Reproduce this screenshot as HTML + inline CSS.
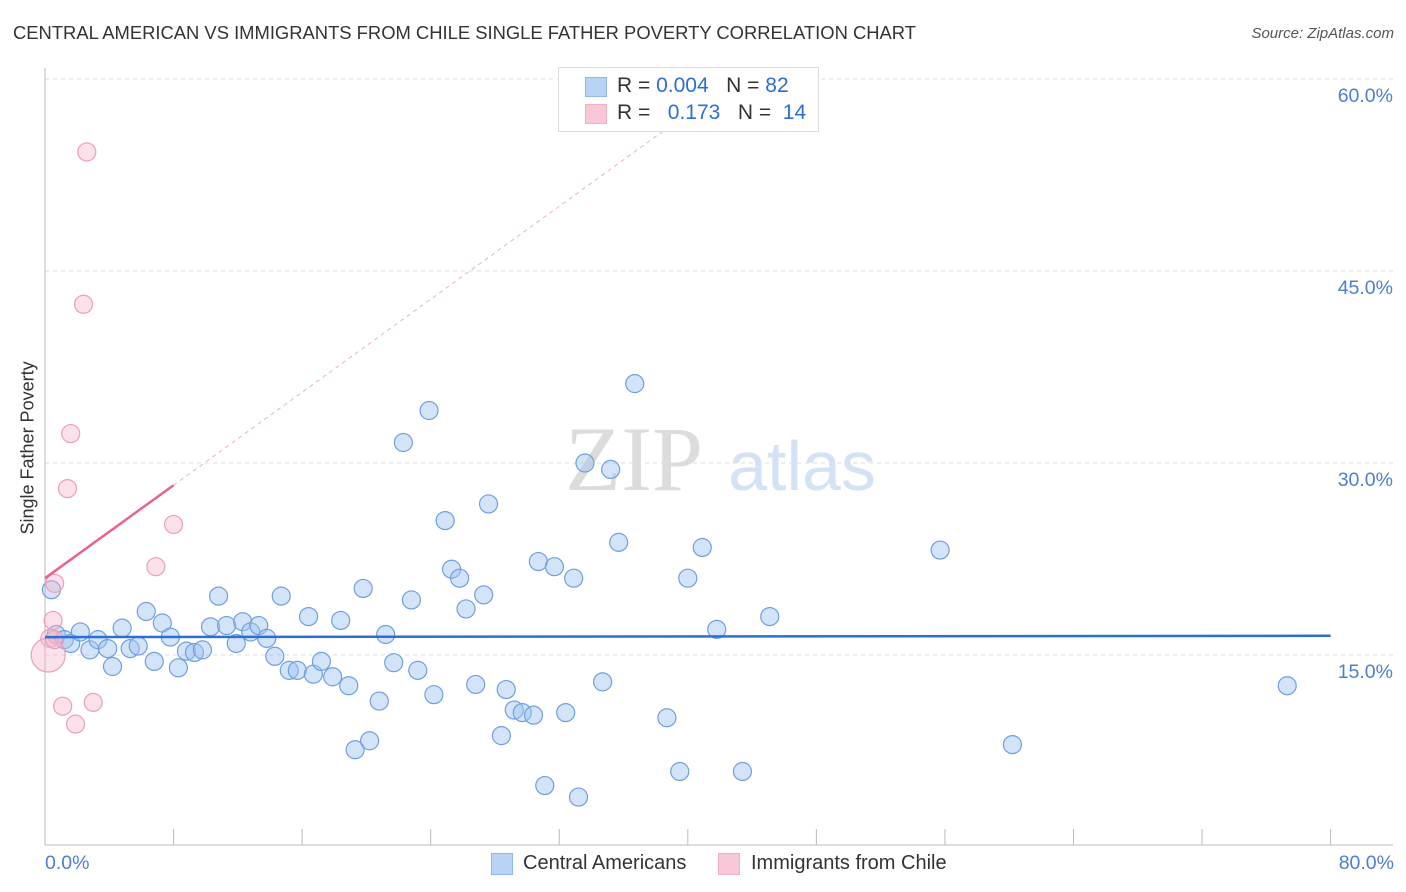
<!DOCTYPE html>
<html><head><meta charset="utf-8">
<style>
body{margin:0;background:#fff;font-family:"Liberation Sans",sans-serif;}
#wrap{position:relative;width:1406px;height:892px;overflow:hidden;}
.t{position:absolute;white-space:nowrap;}
</style></head>
<body>
<div id="wrap">
<div class="t" style="left:13px;top:22px;font-size:18.4px;color:#333;">CENTRAL AMERICAN VS IMMIGRANTS FROM CHILE SINGLE FATHER POVERTY CORRELATION CHART</div>
<div class="t" style="right:12px;top:25px;font-size:15px;color:#555;font-style:italic;">Source: ZipAtlas.com</div>
<svg id="plot" width="1406" height="892" style="position:absolute;left:0;top:0"></svg>
</div>
<script>
const blueX=[0.4,0.7,1.2,1.6,2.2,2.8,3.3,3.9,4.2,4.8,5.3,5.8,6.3,6.8,7.3,7.8,8.3,8.8,9.3,9.8,10.3,10.8,11.3,11.9,12.3,12.8,13.3,13.8,14.3,14.7,15.2,15.7,16.4,16.7,17.2,17.9,18.4,18.9,19.8,19.3,20.2,20.8,21.2,21.7,22.3,22.8,23.2,23.9,24.2,24.9,25.3,25.8,26.2,26.8,27.3,27.6,28.4,28.7,29.2,29.7,30.4,30.7,31.1,31.7,32.4,32.9,33.2,33.6,34.7,35.2,35.7,36.7,38.7,39.5,40.0,40.9,41.8,43.4,45.1,55.7,60.2,77.3];
const blueY=[20.1,16.6,16.2,15.9,16.8,15.4,16.2,15.5,14.1,17.1,15.5,15.7,18.4,14.5,17.5,16.4,14.0,15.3,15.2,15.4,17.2,19.6,17.3,15.9,17.6,16.8,17.3,16.3,14.9,19.6,13.8,13.8,18.0,13.5,14.5,13.3,17.7,12.6,20.2,7.6,8.3,11.4,16.6,14.4,31.6,19.3,13.8,34.1,11.9,25.5,21.7,21.0,18.6,12.7,19.7,26.8,8.7,12.3,10.7,10.5,10.3,22.3,4.8,21.9,10.5,21.0,3.9,30.0,12.9,29.5,23.8,36.2,10.1,5.9,21.0,23.4,17.0,5.9,18.0,23.2,8.0,12.6];
const pinkX=[0.6,0.5,0.3,0.2,0.6,1.4,1.6,2.4,2.6,1.1,1.9,3.0,6.9,8.0];
const pinkY=[20.6,17.7,16.3,15.0,16.2,28.0,32.3,42.4,54.3,11.0,9.6,11.3,21.9,25.2];
const pinkR=[9,9,9,17,9,9,9,9,9,9,9,9,9,9];
const yTicks=[15,30,45,60];
const yTickLabels=["15.0%","30.0%","45.0%","60.0%"];
const blueTrend=[16.4,16.5];
const pinkTrend=[21.0,0.908];
const NS="http://www.w3.org/2000/svg";
const X=v=>45+v*16.07, Y=v=>847-v*12.8;
const svg=document.getElementById('plot');
function mk(tag,attrs){const e=document.createElementNS(NS,tag);for(const k in attrs)e.setAttribute(k,attrs[k]);svg.appendChild(e);return e;}
yTicks.forEach((t,i)=>{
 const g=mk('line',{x1:45,x2:1393,y1:Y(t),y2:Y(t),stroke:'#ddd','stroke-dasharray':'4,4'});
 
 
 const tx=mk('text',{x:1393,y:Y(t)+23,'text-anchor':'end','font-size':19.5,fill:'#4a7fd4'});
 tx.textContent=yTickLabels[i];
 
 
});
let a=mk('line',{x1:45,x2:45,y1:68,y2:845,stroke:'#bbb'});


a=mk('line',{x1:45,x2:1393,y1:845,y2:845,stroke:'#bbb'});


for(let i=0;i<=10;i++){const tk=mk('line',{x1:X(i*8),x2:X(i*8),y1:829,y2:845,stroke:'#bbb'});
 
 }
let w=mk('text',{x:634,y:490,'text-anchor':'middle','font-size':92,fill:'#dcdcdc','font-family':'Liberation Serif,serif'});
w.textContent='ZIP';


w=mk('text',{x:802,y:490,'text-anchor':'middle','font-size':70,fill:'#d4e2f6'});
w.textContent='atlas';


const pe=42.5;
let l=mk('line',{x1:X(8),y1:Y(pinkTrend[0]+pinkTrend[1]*8),x2:X(pe),y2:Y(pinkTrend[0]+pinkTrend[1]*pe),stroke:'#ebb0c4','stroke-dasharray':'4,4'});


blueX.forEach((x,i)=>{const c=mk('circle',{cx:X(x),cy:Y(blueY[i]),r:9,fill:'rgba(160,196,240,0.45)',stroke:'#6e9fe0','stroke-width':1.2});
 
 });
pinkX.forEach((x,i)=>{const c=mk('circle',{cx:X(x),cy:Y(pinkY[i]),r:pinkR[i],fill:'rgba(246,180,200,0.4)',stroke:'#eaa0b8','stroke-width':1.2});
 
 });
l=mk('line',{x1:X(0),y1:Y(blueTrend[0]),x2:X(80),y2:Y(blueTrend[1]),stroke:'#2b6fd6','stroke-width':2.5});


l=mk('line',{x1:X(0),y1:Y(pinkTrend[0]),x2:X(8),y2:Y(pinkTrend[0]+pinkTrend[1]*8),stroke:'#e8648e','stroke-width':2.5});


</script>
<div style="position:absolute;left:558px;top:67px;width:259px;height:63px;border:1px solid #ddd;background:#fff;font-size:21px;">
 <div style="position:absolute;left:26px;top:9px;width:20px;height:18px;background:#b9d3f5;border:1px solid #8fb5ea;"></div>
 <div class="t" style="left:58px;top:6px;color:#333;">R = <span style="color:#2b6fd6">0.004</span>&nbsp;&nbsp;&nbsp;N = <span style="color:#2b6fd6">82</span></div>
 <div style="position:absolute;left:26px;top:36px;width:20px;height:18px;background:#f9c8d6;border:1px solid #eeb0c4;"></div>
 <div class="t" style="left:58px;top:33px;color:#333;">R = &nbsp;&nbsp;<span style="color:#2b6fd6">0.173</span>&nbsp;&nbsp;&nbsp;N = &nbsp;<span style="color:#2b6fd6">14</span></div>
</div>
<div class="t" style="left:-52px;top:444px;width:160px;text-align:center;transform:rotate(-90deg);font-size:18px;color:#333;">Single Father Poverty</div>
<div class="t" style="left:45px;top:852px;font-size:19.5px;color:#4a7fd4;">0.0%</div>
<div class="t" style="right:12px;top:852px;font-size:19.5px;color:#4a7fd4;">80.0%</div>
<div style="position:absolute;left:491px;top:853px;width:20px;height:20px;background:#b9d3f5;border:1px solid #8fb5ea;"></div>
<div class="t" style="left:523px;top:852px;font-size:20px;color:#333;">Central Americans</div>
<div style="position:absolute;left:718px;top:853px;width:20px;height:20px;background:#f9c8d6;border:1px solid #eeb0c4;"></div>
<div class="t" style="left:751px;top:852px;font-size:20px;color:#333;">Immigrants from Chile</div>
</body></html>
